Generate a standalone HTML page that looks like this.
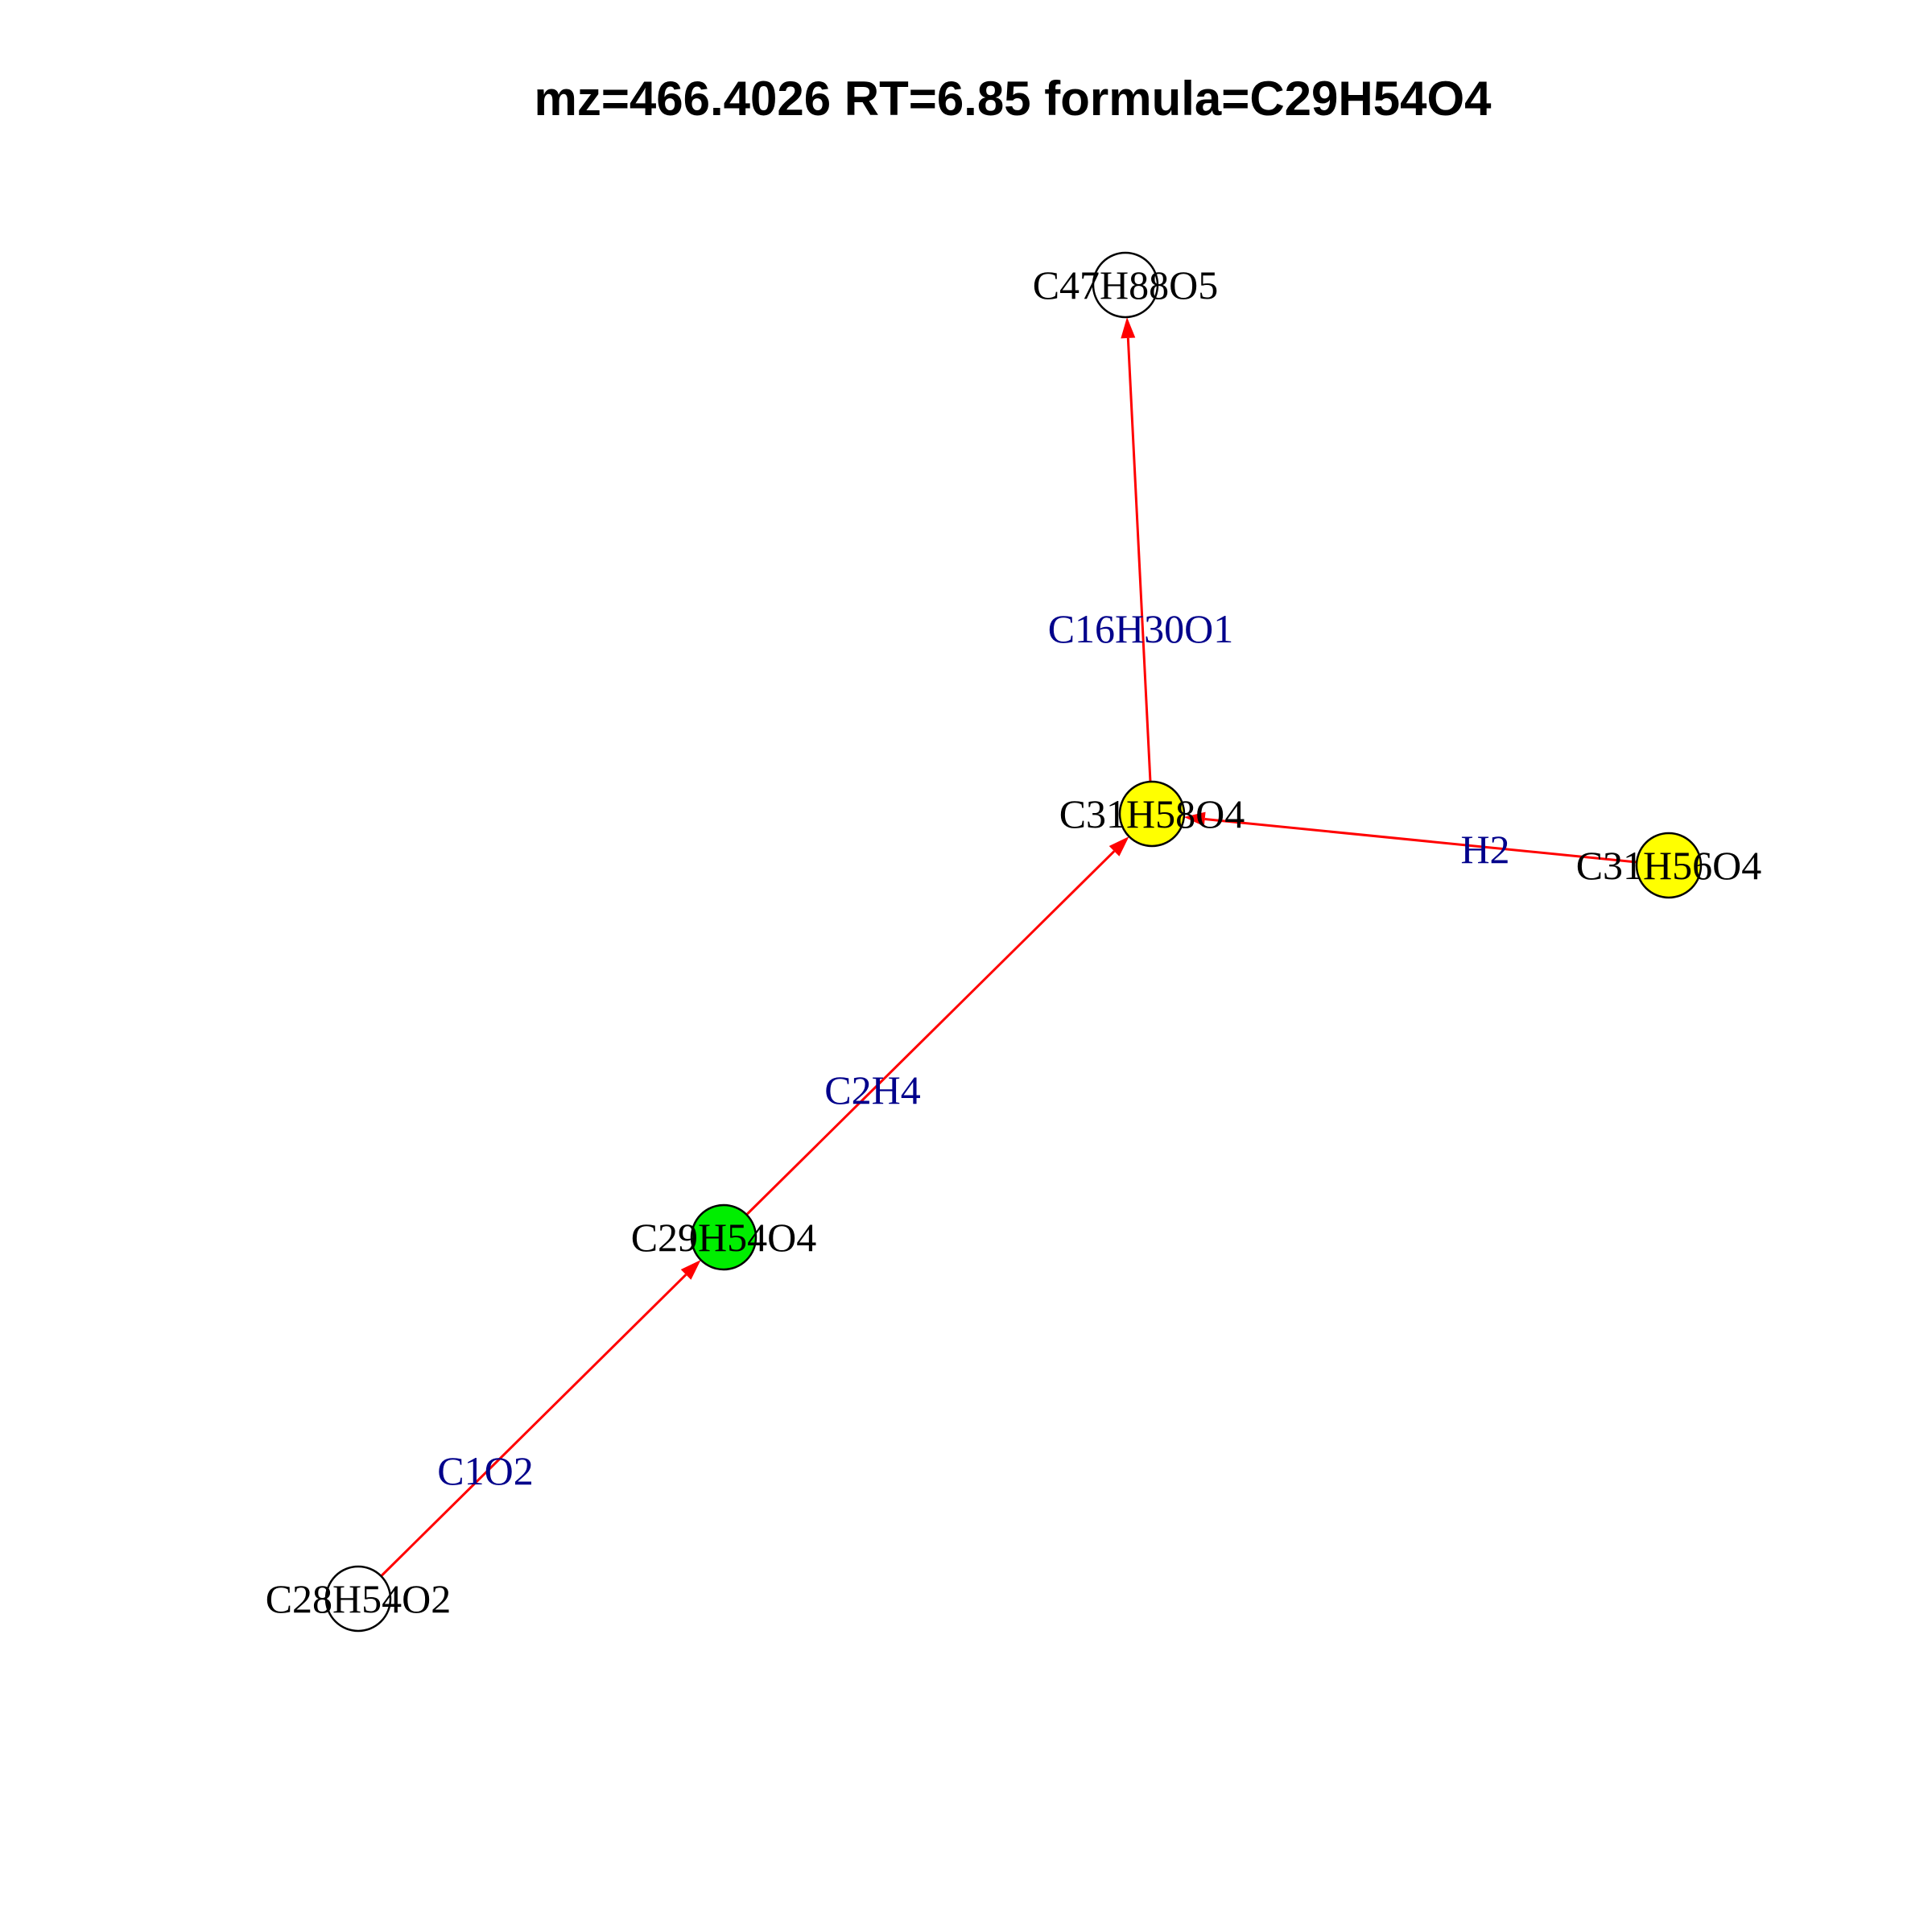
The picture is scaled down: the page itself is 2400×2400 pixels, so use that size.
<!DOCTYPE html>
<html><head><meta charset="utf-8"><style>
html,body{margin:0;padding:0;background:#fff;width:2400px;height:2400px;overflow:hidden}
</style></head><body>
<svg id="chart" width="2400" height="2400" viewBox="0 0 2400 2400" xmlns="http://www.w3.org/2000/svg">
<text x="1258" y="143" text-anchor="middle" font-family="Liberation Sans, sans-serif" font-weight="bold" font-size="60">mz=466.4026 RT=6.85 formula=C29H54O4</text>
<g id="edges"></g><g id="nodes"></g><g id="labels"></g>
</svg>
<script>
const nodeNames=["C47H88O5","C31H58O4","C31H56O4","C29H54O4","C28H54O2"];
const nodeX=[1398,1431,2073,899,445];
const nodeY=[354,1011,1075,1537,1986];
const nodeColors=["#ffffff","#ffff00","#ffff00","#00ee00","#ffffff"];
const edgeFrom=[4,3,2,1];
const edgeTo=[3,1,1,0];
const edgeLabels=["C1O2","C2H4","H2","C16H30O1"];
const edgeLabelX=[603,1084,1845,1417];
const edgeLabelY=[1827,1354,1055,781];
const NS="http://www.w3.org/2000/svg",R=40;
const eg=document.getElementById('edges'),ng=document.getElementById('nodes'),lg=document.getElementById('labels');
for(let i=0;i<edgeFrom.length;i++){
  const a=edgeFrom[i],b=edgeTo[i];
  const x1=nodeX[a],y1=nodeY[a],x2=nodeX[b],y2=nodeY[b];
  const dx=x2-x1,dy=y2-y1,L=Math.hypot(dx,dy),ux=dx/L,uy=dy/L;
  const sx=x1+ux*R,sy=y1+uy*R,tx=x2-ux*R,ty=y2-uy*R;
  const bx=tx-ux*26,by=ty-uy*26;
  const line=document.createElementNS(NS,'line');
  
  
  line.setAttribute('x1',sx);line.setAttribute('y1',sy);line.setAttribute('x2',bx);line.setAttribute('y2',by);
  line.setAttribute('stroke','#ff0000');line.setAttribute('stroke-width','3');
  eg.appendChild(line);
  const px=-uy,py=ux;
  const ar=document.createElementNS(NS,'polygon');
  
  
  ar.setAttribute('points',`${tx},${ty} ${bx+px*9},${by+py*9} ${bx-px*9},${by-py*9}`);
  ar.setAttribute('fill','#ff0000');
  eg.appendChild(ar);
  const t=document.createElementNS(NS,'text');
  
  
  t.setAttribute('x',edgeLabelX[i]);t.setAttribute('y',edgeLabelY[i]+17);
  t.setAttribute('text-anchor','middle');t.setAttribute('font-family','Liberation Serif, serif');
  t.setAttribute('font-size','50');t.setAttribute('fill','#00008b');
  t.textContent=edgeLabels[i];
  lg.appendChild(t);
}
for(let i=0;i<nodeNames.length;i++){
  const c=document.createElementNS(NS,'circle');
  
  
  c.setAttribute('cx',nodeX[i]);c.setAttribute('cy',nodeY[i]);c.setAttribute('r',R);
  c.setAttribute('fill',nodeColors[i]);c.setAttribute('stroke','#000');c.setAttribute('stroke-width','2.5');
  ng.appendChild(c);
  const t=document.createElementNS(NS,'text');
  
  
  t.setAttribute('x',nodeX[i]);t.setAttribute('y',nodeY[i]+17);
  t.setAttribute('text-anchor','middle');t.setAttribute('font-family','Liberation Serif, serif');
  t.setAttribute('font-size','50');t.setAttribute('fill','#000');
  t.textContent=nodeNames[i];
  lg.appendChild(t);
}
</script>
</body></html>
